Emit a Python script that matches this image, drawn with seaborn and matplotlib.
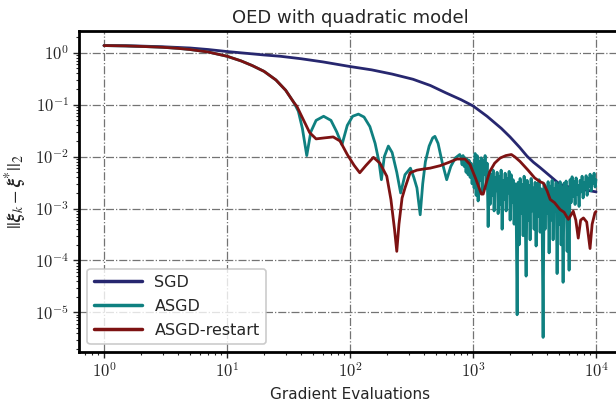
import matplotlib
matplotlib.use("Agg")
import matplotlib.pyplot as plt
from matplotlib.ticker import FuncFormatter, NullFormatter
import numpy as np
import seaborn as sns
import pandas as pd

# Error history ||xi_k - xi*||_2 against gradient evaluations
sgd_iters = [1, 1.5, 2, 3, 5, 7, 10, 15, 20, 27, 40, 60, 100, 150, 220, 325, 450,
             600, 800, 1000, 1300, 1700, 2000, 2400, 2750, 3100, 3500, 4200,
             5100, 6500, 8000, 10000]
sgd_err = [1.38, 1.37, 1.35, 1.31, 1.24, 1.16, 1.06, 0.97, 0.91, 0.86, 0.77, 0.67,
           0.545, 0.47, 0.39, 0.31, 0.235, 0.17, 0.125, 0.095, 0.060, 0.035, 0.024,
           0.015, 0.0102, 0.0078, 0.0062, 0.0043, 0.0029, 0.0025, 0.0023, 0.0021]

# Shared early phase of both accelerated runs
accel_iters_head = [1, 1.5, 2, 3, 4, 5, 7, 10, 13, 16, 20, 25, 30, 35]
accel_err_head = [1.38, 1.36, 1.33, 1.28, 1.22, 1.16, 1.04, 0.86, 0.70, 0.57,
                  0.44, 0.30, 0.19, 0.11]

asgd_iters_mid = [38, 41, 44.5, 48, 53, 61, 70, 78, 86, 95, 105, 117, 130, 145, 160,
                  172, 180, 190, 205, 220, 240, 258, 280, 310, 330, 350, 372, 390,
                  410, 440, 470, 490, 520, 560, 611, 660, 720, 780]
asgd_err_mid = [0.075, 0.035, 0.0105, 0.030, 0.050, 0.060, 0.050, 0.030, 0.017,
                0.040, 0.060, 0.066, 0.058, 0.038, 0.018, 0.008, 0.0036, 0.010,
                0.016, 0.012, 0.005, 0.002, 0.0045, 0.006, 0.004, 0.0025, 0.00076,
                0.003, 0.008, 0.016, 0.023, 0.0246, 0.018, 0.008, 0.0036, 0.0065,
                0.0095, 0.011]

asgd_tail = [
    (800, 0.0095), (815, 0.007), (830, 0.0105), (846, 0.0065), (862, 0.0095),
    (878, 0.005), (895, 0.009), (912, 0.0045), (929, 0.0085), (947, 0.004),
    (965, 0.0075), (983, 0.003), (1002, 0.0065), (1021, 0.0025), (1040, 0.0115),
    (1060, 0.0018), (1080, 0.0105), (1100, 0.0014), (1121, 0.008), (1142, 0.0035),
    (1164, 0.0095), (1186, 0.002), (1208, 0.0085), (1231, 0.0045), (1254, 0.0105),
    (1278, 0.0025), (1302, 0.0075), (1327, 0.00045), (1352, 0.005), (1377, 0.0012),
    (1403, 0.0045), (1430, 0.0018), (1457, 0.0055), (1484, 0.0009), (1512, 0.004),
    (1541, 0.0022), (1570, 0.005), (1600, 0.0008), (1630, 0.0042), (1661, 0.0012),
    (1692, 0.0055), (1724, 0.0004), (1757, 0.0035), (1790, 0.0015), (1824, 0.0048),
    (1858, 0.0009), (1893, 0.0038), (1929, 0.002), (1966, 0.0052), (2003, 0.0006),
    (2041, 0.0045), (2079, 0.0013), (2118, 0.0036), (2158, 0.0005), (2199, 0.003),
    (2241, 0.0012), (2283, 0.000009), (2326, 0.0032), (2370, 0.0002), (2415, 0.0038),
    (2460, 0.0008), (2507, 0.0029), (2554, 0.0003), (2602, 0.0042), (2651, 0.0011),
    (2701, 0.00005), (2752, 0.0035), (2804, 0.0006), (2857, 0.0028), (2911, 0.00025),
    (2966, 0.0038), (3022, 0.0009), (3079, 0.0025), (3137, 0.0004), (3197, 0.0032),
    (3257, 0.00019), (3318, 0.003), (3381, 0.0007), (3445, 0.0036), (3510, 0.00035),
    (3576, 0.0024), (3644, 0.0009), (3713, 0.0000033), (3783, 0.003), (3854, 0.0004),
    (3927, 0.0026), (4001, 0.0008), (4077, 0.0033), (4154, 0.00014), (4232, 0.0027),
    (4312, 0.0006), (4394, 0.0035), (4477, 0.00025), (4561, 0.0024), (4647, 0.0009),
    (4735, 0.0032), (4825, 0.000056), (4916, 0.0028), (5009, 0.0005), (5103, 0.0033),
    (5200, 0.0002), (5298, 0.0026), (5398, 0.000038), (5500, 0.0031), (5604, 0.0007),
    (5710, 0.0034), (5818, 0.00015), (5928, 0.0025), (6040, 0.000065), (6154, 0.0036),
    (6270, 0.0013), (6389, 0.0041), (6509, 0.0017), (6632, 0.0033), (6758, 0.0012),
    (6885, 0.0039), (7015, 0.0019), (7148, 0.0028), (7283, 0.0011), (7421, 0.0035),
    (7561, 0.0021), (7704, 0.0042), (7850, 0.0016), (7998, 0.0032), (8149, 0.0024),
    (8303, 0.0043), (8460, 0.0018), (8620, 0.0038), (8783, 0.0027), (8949, 0.0046),
    (9118, 0.0022), (9290, 0.0042), (9466, 0.003), (9645, 0.0048), (9827, 0.0026),
    (10000, 0.0036),
]

restart_iters_tail = [37, 42, 47, 53, 62, 73, 83, 95, 108, 120, 135, 155, 175, 199,
                      215, 230, 240, 250, 265, 280, 308, 350, 400, 447, 540, 640, 740,
                      860, 945, 1050, 1170, 1210, 1300, 1370, 1500, 1660, 1850, 2050,
                      2200, 2410, 2800, 3170, 3500, 3730, 4000, 4240, 4600, 5100, 5500,
                      5960, 6530, 6850, 7170, 7500, 7900, 8400, 8940, 9300, 9800, 10000]
restart_err_tail = [0.093, 0.05, 0.029, 0.022, 0.023, 0.024, 0.02, 0.011, 0.0068,
                    0.0049, 0.0068, 0.0097, 0.0075, 0.0042, 0.0015, 0.0004, 0.00015,
                    0.0005, 0.0016, 0.0025, 0.0049, 0.0055, 0.0058, 0.006, 0.0067,
                    0.0078, 0.009, 0.009, 0.0071, 0.0038, 0.0019, 0.0019, 0.0035,
                    0.0052, 0.0075, 0.0094, 0.0105, 0.011, 0.0098, 0.0081, 0.0055,
                    0.0039, 0.0033, 0.0031, 0.0022, 0.0015, 0.0013, 0.00096, 0.00085,
                    0.00062, 0.00089, 0.0006, 0.00027, 0.0006, 0.00066, 0.00055,
                    0.00017, 0.0005, 0.00083, 0.00088]

series_names = ["SGD", "ASGD", "ASGD-restart"]
series_colors = ["#27276f", "#0f8080", "#7d1212"]

asgd_iters = accel_iters_head + asgd_iters_mid + [p[0] for p in asgd_tail]
asgd_err = accel_err_head + asgd_err_mid + [p[1] for p in asgd_tail]
restart_iters = accel_iters_head + restart_iters_tail
restart_err = accel_err_head + restart_err_tail

frames = [
    pd.DataFrame({"iters": sgd_iters, "err": sgd_err, "method": series_names[0]}),
    pd.DataFrame({"iters": asgd_iters, "err": asgd_err, "method": series_names[1]}),
    pd.DataFrame({"iters": restart_iters, "err": restart_err, "method": series_names[2]}),
]

sns.set_style("ticks")
plt.rcParams["font.family"] = ["DejaVu Sans"]
plt.rcParams["mathtext.fontset"] = "cm"

fig = plt.figure(figsize=(6.16, 4.03), dpi=100)
ax = fig.add_axes([0.1289, 0.1266, 0.8786, 0.7965])

for df, name, color in zip(frames, series_names, series_colors):
    sns.lineplot(data=df, x="iters", y="err", ax=ax, color=color, label=name,
                 linewidth=2.0, estimator=None, sort=False)

ax.set_xscale("log")
ax.set_yscale("log")
ax.margins(x=0.05, y=0.05)

# decade labels typeset as 10^n in Computer Modern
decade_fmt = FuncFormatter(lambda v, pos: r"$10^{%d}$" % int(round(np.log10(v))))
for axis in (ax.xaxis, ax.yaxis):
    axis.set_major_formatter(decade_fmt)
    axis.set_minor_formatter(NullFormatter())

ax.grid(True, which="major", linestyle="-.", color="0.45", linewidth=0.9)
for s in ax.spines.values():
    s.set_linewidth(2.0)
    s.set_color("black")
ax.tick_params(which="major", direction="out", length=4, width=1, labelsize=12)
ax.tick_params(which="minor", direction="out", length=2, width=0.8)

ax.set_title("OED with quadratic model", fontsize=13, pad=6)
ax.set_xlabel("Gradient Evaluations", fontsize=11)
ax.set_ylabel(r"$||\boldsymbol{\xi}_k - \boldsymbol{\xi}^{*}||_2$", fontsize=14,
              math_fontfamily="stix")

leg = ax.legend(loc="lower left", fontsize=11.5, handlelength=3.0,
                labelspacing=0.55, frameon=True, fancybox=True)
leg.get_frame().set_edgecolor("0.75")
leg.get_frame().set_linewidth(1.2)
for line in leg.get_lines():
    line.set_linewidth(2.5)

fig.savefig("out.png", dpi=100)
